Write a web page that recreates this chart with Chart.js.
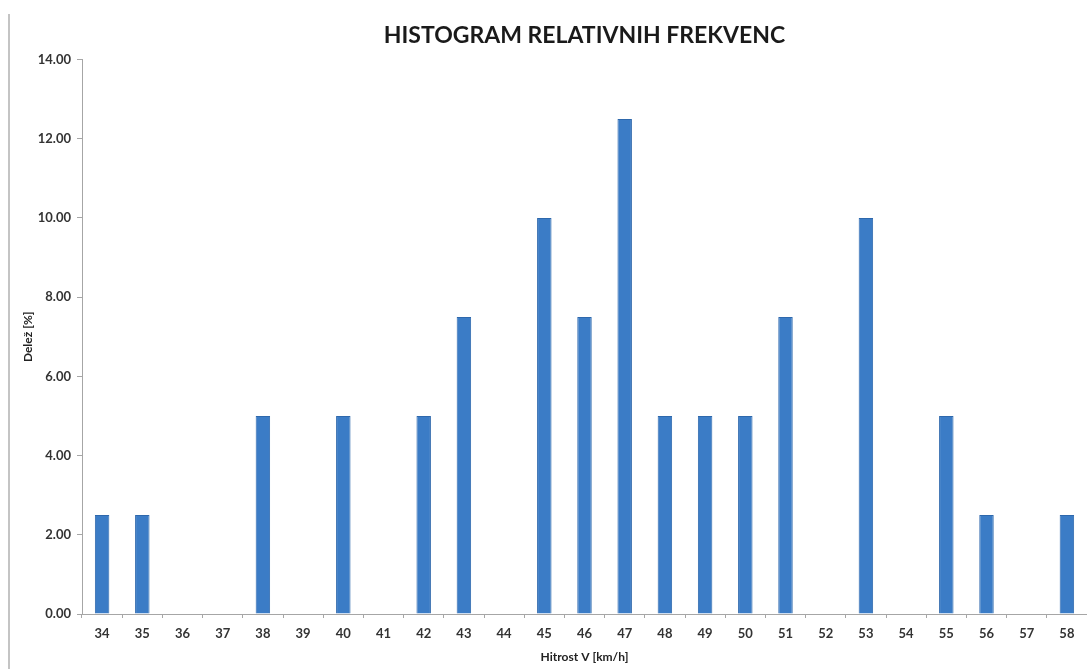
<!DOCTYPE html>
<html lang="sl">
<head>
    <meta charset="UTF-8">
    <title>Histogram relativnih frekvenc</title>
    <script src="https://cdn.jsdelivr.net/npm/chart.js"></script>
    <style>
        html, body { margin: 0; padding: 0; background: #fff; }
        #wrap { position: relative; width: 1087px; height: 669px; }
        #edge { position: absolute; left: 8px; top: 14px; bottom: 0; border-left: 2px solid #c4c4c4; }
    </style>
</head>
<body>
    <div id="wrap">
        <div id="edge"></div>
        <canvas id="histChart" width="1087" height="669"></canvas>
    </div>
    <script>
        // hitrost (km/h) and relative share (%)
        const speeds = ['34', '35', '36', '37', '38', '39', '40', '41', '42', '43', '44', '45', '46',
                        '47', '48', '49', '50', '51', '52', '53', '54', '55', '56', '57', '58'];
        const shares = [2.5, 2.5, 0, 0, 5, 0, 5, 0, 5, 7.5, 0, 10, 7.5,
                        12.5, 5, 5, 5, 7.5, 0, 10, 0, 5, 2.5, 0, 2.5];
        const yTicks = [0, 2, 4, 6, 8, 10, 12, 14];

        const ctx = document.getElementById('histChart').getContext('2d');
        const font = 'Lato, "Open Sans", sans-serif';

        new Chart(ctx, {
            type: 'bar',
            data: {
                labels: speeds,
                datasets: [{
                    label: 'Delež [%]',
                    data: shares,
                    backgroundColor: '#3b7cc6',
                    borderColor: '#2e68ac',
                    borderWidth: 1,
                    categoryPercentage: 1,
                    barPercentage: 0.36
                }]
            },
            options: {
                responsive: false,
                animation: false,
                layout: { padding: { left: 0, right: 0, top: 0, bottom: 0 } },
                plugins: {
                    legend: { display: false },
                    tooltip: { enabled: false },
                    title: {
                        display: true,
                        fullSize: false,
                        text: 'HISTOGRAM RELATIVNIH FREKVENC',
                        color: '#1a1a1a',
                        font: { family: font, size: 23, weight: 'bold' },
                        padding: { top: 22, bottom: 10 }
                    }
                },
                scales: {
                    x: {
                        afterFit: (scale) => { scale.height = 55; },
                        border: { color: '#a6a6a6', width: 1 },
                        grid: { display: true, drawOnChartArea: false, offset: true, tickLength: 4, color: '#a6a6a6' },
                        ticks: { color: '#333', font: { family: font, size: 13, weight: 'bold' }, padding: 8, maxRotation: 0 },
                        title: {
                            display: true,
                            text: 'Hitrost V [km/h]',
                            color: '#222',
                            font: { family: font, size: 12, weight: 'bold' },
                            padding: { top: 0, bottom: 5 }
                        }
                    },
                    y: {
                        min: 0,
                        max: 14,
                        afterFit: (scale) => { scale.width = 82; },
                        afterBuildTicks: (scale) => { scale.ticks = yTicks.map(v => ({ value: v })); },
                        border: { color: '#a6a6a6', width: 1 },
                        grid: { display: true, drawOnChartArea: false, tickLength: 5, color: '#a6a6a6' },
                        ticks: {
                            color: '#333',
                            font: { family: font, size: 13, weight: 'bold' },
                            padding: 6,
                            callback: (v) => Number(v).toFixed(2)
                        },
                        title: {
                            display: true,
                            text: 'Delež [%]',
                            color: '#222',
                            font: { family: font, size: 12, weight: 'bold' },
                            padding: { top: 21, bottom: 0 }
                        }
                    }
                }
            }
        });
    </script>
</body>
</html>
